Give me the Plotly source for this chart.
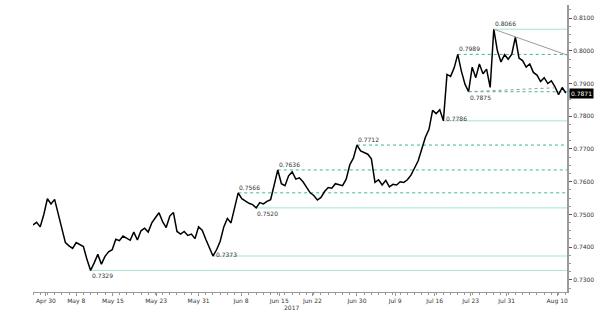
import plotly.graph_objects as go

# Price series, sampled every half trading day (Apr 27 - Aug 11, 2017)
price = [
    0.7468, 0.7476, 0.7462, 0.7500, 0.7548, 0.7532, 0.7546, 0.7503, 0.7462, 0.7414,
    0.7404, 0.7396, 0.7414, 0.7408, 0.7402, 0.7362, 0.7329, 0.7352, 0.7378, 0.7348,
    0.7372, 0.7386, 0.7392, 0.7424, 0.7420, 0.7434, 0.7428, 0.7421, 0.7446, 0.7422,
    0.7450, 0.7458, 0.7446, 0.7474, 0.7490, 0.7505, 0.7478, 0.7460, 0.7495, 0.7506,
    0.7448, 0.7440, 0.7448, 0.7436, 0.7440, 0.7426, 0.7462, 0.7452, 0.7424, 0.7398,
    0.7373, 0.7392, 0.7418, 0.7462, 0.7488, 0.7474, 0.7520, 0.7566, 0.7548, 0.7540,
    0.7534, 0.7530, 0.7520, 0.7536, 0.7532, 0.7540, 0.7545, 0.7590, 0.7636, 0.7594,
    0.7588, 0.7618, 0.7630, 0.7608, 0.7612, 0.7600, 0.7584, 0.7566, 0.7558, 0.7544,
    0.7552, 0.7570, 0.7582, 0.7580, 0.7594, 0.7592, 0.7588, 0.7608, 0.7652, 0.7672,
    0.7712, 0.7694, 0.7690, 0.7684, 0.7670, 0.7598, 0.7606, 0.7590, 0.7604, 0.7584,
    0.7592, 0.7590, 0.7600, 0.7598, 0.7606, 0.7620, 0.7642, 0.7664, 0.7700, 0.7736,
    0.7760, 0.7818, 0.7808, 0.7820, 0.7786, 0.7928, 0.7922, 0.7948, 0.7989, 0.7938,
    0.7898, 0.7875, 0.7950, 0.7918, 0.7960, 0.7930, 0.7944, 0.7888, 0.8066, 0.8000,
    0.7966, 0.7988, 0.7974, 0.7990, 0.8042, 0.7978, 0.7970, 0.7950, 0.7960, 0.7934,
    0.7926, 0.7906, 0.7918, 0.7900, 0.7908, 0.7890, 0.7866, 0.7888, 0.7871,
]
step = 0.5  # trading days per sample
days = [i * step for i in range(len(price))]

# X axis tick labels at trading-day positions
tick_labels = ["Apr 30", "May 8", "May 15", "May 23", "May 31", "Jun 8", "Jun 15",
               "Jun 22", "Jun 30", "Jul 9", "Jul 16", "Jul 23", "Jul 31", "Aug 10"]
tick_days = [1.8, 6.0, 11.1, 17.1, 23.0, 28.9, 34.2, 38.8, 45.0, 50.3, 55.8, 60.8, 65.8, 72.8]

# Key levels: (value, sample index where it starts, style, label position)
level_values = [0.7329, 0.7373, 0.7520, 0.7566, 0.7636, 0.7712, 0.7786, 0.7875, 0.7989, 0.8066]
level_index = [16, 50, 62, 57, 68, 90, 114, 121, 118, 128]
level_dashed = [False, False, False, True, True, True, False, True, True, False]
level_label_pos = ["below", "right", "below", "above", "above", "above", "right", "below", "above", "above"]

last_price = 0.7871
x_end = 74.17
trend_end_value = 0.7987
flat_trend_end = (72.5, 0.7887)

MINT = "#a6e3cf"
GREEN = "#3dbb85"
GREY = "#9a9a9a"

fig = go.Figure()
fig.add_trace(go.Scatter(x=days, y=price, mode="lines",
                         line=dict(color="black", width=1.5), hoverinfo="skip"))

shapes = []
annotations = []
for v, idx, dashed, pos in zip(level_values, level_index, level_dashed, level_label_pos):
    x0 = days[idx]
    shapes.append(dict(type="line", xref="x", yref="y", x0=x0, x1=x_end, y0=v, y1=v,
                       line=dict(color=GREEN if dashed else MINT, width=1,
                                 dash="3px,3px" if dashed else "solid"), layer="below"))
    txt = f"{v:.4f}"
    if pos == "above":
        annotations.append(dict(x=x0, y=v, xref="x", yref="y", text=txt, showarrow=False,
                                xanchor="left", yanchor="bottom", yshift=0, xshift=-1,
                                font=dict(size=6, color="#333", family="DejaVu Sans")))
    elif pos == "below":
        annotations.append(dict(x=x0, y=v, xref="x", yref="y", text=txt, showarrow=False,
                                xanchor="left", yanchor="top", yshift=0, xshift=-1,
                                font=dict(size=6, color="#333", family="DejaVu Sans")))
    else:
        annotations.append(dict(x=x0, y=v, xref="x", yref="y", text=txt, showarrow=False,
                                xanchor="left", yanchor="middle", yshift=2, xshift=1,
                                font=dict(size=6, color="#333", family="DejaVu Sans")))

# Falling trend line from the high
hi_idx = level_index[-1]
shapes.append(dict(type="line", xref="x", yref="y", x0=days[hi_idx], y0=level_values[-1],
                   x1=x_end, y1=trend_end_value, line=dict(color=GREY, width=1)))
# grey dashed support trend
lo_idx = level_index[7]
shapes.append(dict(type="line", xref="x", yref="y", x0=days[lo_idx], y0=level_values[7],
                   x1=flat_trend_end[0], y1=flat_trend_end[1],
                   line=dict(color=GREY, width=1, dash="3px,3px")))

# last price box
annotations.append(dict(x=1, xref="paper", y=last_price, yref="y", text=f"{last_price:.4f}",
                        showarrow=False, xanchor="left", xshift=2, bgcolor="black",
                        font=dict(size=6, color="white", family="DejaVu Sans"), borderpad=1))
# year label
annotations.append(dict(x=0.484, xref="paper", y=-0.035, yref="paper", text="2017",
                        showarrow=False, yanchor="top",
                        font=dict(size=6, color="#333", family="DejaVu Sans")))

fig.update_layout(
    width=600, height=310,
    margin=dict(l=33, r=33, t=5, b=18),
    paper_bgcolor="white", plot_bgcolor="white",
    showlegend=False,
    shapes=shapes, annotations=annotations,
    xaxis=dict(range=[0, x_end], tickmode="array", tickvals=tick_days, ticktext=tick_labels,
               showgrid=False, zeroline=False, showline=True, linecolor=GREY, linewidth=1,
               ticks="outside", ticklen=3, tickcolor=GREY,
               tickfont=dict(size=6, color="#333", family="DejaVu Sans"),
               minor=dict(tickmode="linear", dtick=1, ticks="outside", ticklen=2, tickcolor=GREY)),
    yaxis=dict(side="right", range=[0.7263, 0.8140], tick0=0.73, dtick=0.01,
               tickformat=".4f", showgrid=False, zeroline=False, showline=True,
               linecolor=GREY, linewidth=2, ticks="outside", ticklen=3, tickcolor="#555",
               tickfont=dict(size=6, color="#333", family="DejaVu Sans"),
               minor=dict(dtick=0.0025, ticks="outside", ticklen=2, tickcolor=GREY)),
)

fig.write_html("out.html")
